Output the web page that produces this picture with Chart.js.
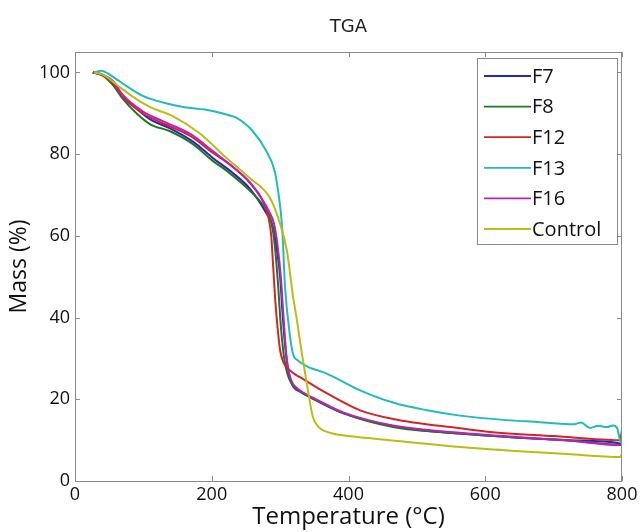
<!DOCTYPE html>
<html>
<head>
<meta charset="utf-8">
<script src="https://cdn.jsdelivr.net/npm/chart.js@4.4.1/dist/chart.umd.min.js"></script>
<style>
  html,body{margin:0;padding:0;background:#fff;}
  #wrap{width:642px;height:532px;position:relative;}
</style>
</head>
<body>
<div id="wrap"><canvas id="tga"></canvas></div>
<script>
(function(){
  // Series labels / colours
  const seriesNames = ['F7','F8','F12','F13','F16','Control'];
  const seriesColors = ['#2424c8','#1c7a1c','#d42424','#20bcbc','#bc20bc','#bcbc14'];

  // Axis ticks
  const xTicks = [0,200,400,600,800];
  const yTicks = [0,20,40,60,80,100];

  // F7
  const f7T = [26,40,55,70,91,110,139,173,202,230,256,281,289,295,300,304,308,312,318,330,344,392,465,563,650,720,797,800];
  const f7M = [100,99.4,97.5,94,91,88.5,86.3,83,79,75.5,71.5,65.2,62.5,57,50,40,32,27,23.5,21.8,20.5,16.6,13.4,11.6,10.6,10,9.2,9];
  // F8
  const f8T = [26,40,55,70,91,110,139,173,202,222,256,281,287,292,297,301,306,311,318,330,344,392,465,563,650,720,797,800];
  const f8M = [100,99.3,97,93.5,89.8,87.3,85.6,82.4,78.3,75.9,71,66,63.5,58,48,38,30,26,23.5,21.8,20.5,16.6,13.2,11.6,10.6,10,8.9,9.3];
  // F12
  const f12T = [26,40,55,70,99,129,168,202,230,256,275,283,287,290,293,296,300,305,310,320,329,368,417,465,563,607,700,797,800];
  const f12M = [100,99.4,97.6,94,90,87.5,84.5,80.3,77,73,68.5,64.5,60,52,44,38,32,29,27.8,26.3,25.4,21.5,17.3,15.2,12.9,12,11,10,12.5];
  // F13
  const f13T = [28,38,55,76,100,130,160,190,215,237,260,280,292,297,303,307,314,319,326,340,368,417,465,515,563,631,680,705,730,740,753,765,778,787,793,797,800];
  const f13M = [100,100.4,99,96.6,94.2,92.6,91.5,90.9,90,88.8,85.6,80.7,75.9,71,62,48,36,31,29.5,28,26.3,22.2,19.2,17.3,16,14.9,14.4,14.1,13.9,14.3,13,13.5,13.2,13.6,12.9,10,9.3];
  // F16
  const f16T = [26,40,55,70,99,129,168,202,230,256,285,291,296,301,305,309,313,318,324,335,350,392,465,563,650,720,797,800];
  const f16M = [100,99.5,98,94.5,90.5,88,85,80.7,77,73,65.6,63,58,50,40,31,26.5,24,22.8,21.5,20.2,16.8,13.6,11.8,10.7,9.9,8.8,9];
  // Control
  const ctrlT = [28,40,61,85,110,143,183,222,256,285,300,310,319,324,332,339,348,356,363,380,417,460,490,563,650,720,797,800];
  const ctrlM = [100,99.5,97,94,91.5,89.3,85,79,74.1,69.3,62.9,56.3,45,40,31,23.9,15.6,13.3,12.4,11.5,10.7,10,9.5,8.3,7.3,6.6,5.9,6.5];

  const temps = [f7T,f8T,f12T,f13T,f16T,ctrlT];
  const masses = [f7M,f8M,f12M,f13M,f16M,ctrlM];

  const FONT = '"Open Sans", "DejaVu Sans", sans-serif';
  const BOX = '#8a8a8a';

  // Title, box, inward ticks, legend (MATLAB look)
  const axesDecor = {
    id:'axesDecor',
    afterDatasetsDraw(chart){
      const {ctx, chartArea:a, scales} = chart;
      ctx.save();
      ctx.strokeStyle = BOX; ctx.lineWidth = 1;
      ctx.strokeRect(a.left+0.5, a.top+0.5, a.right-a.left-1, a.bottom-a.top);
      ctx.beginPath();
      xTicks.forEach(v=>{
        const x = Math.round(scales.x.getPixelForValue(v))+0.5;
        ctx.moveTo(x, a.bottom); ctx.lineTo(x, a.bottom-5);
        ctx.moveTo(x, a.top); ctx.lineTo(x, a.top+5);
      });
      yTicks.forEach(v=>{
        const y = Math.round(scales.y.getPixelForValue(v))+0.5;
        ctx.moveTo(a.left, y); ctx.lineTo(a.left+5, y);
        ctx.moveTo(a.right, y); ctx.lineTo(a.right-5, y);
      });
      ctx.stroke();

      // title
      ctx.fillStyle = '#222';
      ctx.font = '18px "DejaVu Sans", sans-serif';
      ctx.textAlign = 'center'; ctx.textBaseline = 'middle';
      ctx.fillText('TGA', (a.left+a.right)/2, 27);

      // legend box
      const lx = 477, ly = 58, lw = 140, lh = 186;
      ctx.fillStyle = '#fff';
      ctx.fillRect(lx, ly, lw, lh);
      ctx.strokeStyle = BOX;
      ctx.strokeRect(lx+0.5, ly+0.5, lw, lh);
      ctx.font = '20px ' + FONT;
      ctx.textAlign = 'left';
      seriesNames.forEach((n,i)=>{
        const y = 76 + i*30.6;
        ctx.strokeStyle = seriesColors[i]; ctx.lineWidth = 1.8;
        ctx.beginPath(); ctx.moveTo(484, y); ctx.lineTo(531, y); ctx.stroke();
        ctx.fillStyle = '#111';
        ctx.fillText(n, 532, y+1);
      });
      ctx.restore();
    }
  };

  const datasets = seriesNames.map((n,i)=>({
    label:n,
    data: temps[i].map((t,k)=>({x:t, y:masses[i][k]})),
    borderColor: seriesColors[i],
    backgroundColor: seriesColors[i],
    borderWidth: 2,
    pointRadius: 0,
    cubicInterpolationMode: 'monotone',
    fill: false,
    order: seriesNames.length - i
  }));

  new Chart(document.getElementById('tga').getContext('2d'), {
    type:'line',
    data:{ datasets },
    options:{
      responsive:true,
      maintainAspectRatio:false,
      animation:false,
      layout:{ padding:{ top:52, right:20, left:0, bottom:0 } },
      plugins:{ legend:{display:false}, tooltip:{enabled:false}, title:{display:false} },
      scales:{
        x:{
          type:'linear', min:0, max:800,
          grid:{ display:false, drawTicks:false },
          border:{ display:false },
          ticks:{ stepSize:200, padding:3, color:'#111', font:{ size:18, family:FONT }, maxRotation:0 },
          title:{ display:true, text:'Temperature (°C)', color:'#111', font:{ size:24, family:FONT }, padding:{top:0, bottom:0} },
          afterFit(s){ s.height = 51; }
        },
        y:{
          type:'linear', min:0, max:105,
          grid:{ display:false, drawTicks:false },
          border:{ display:false },
          ticks:{ stepSize:20, padding:5, color:'#111', font:{ size:18, family:FONT } },
          afterBuildTicks(s){ s.ticks = yTicks.map(v=>({value:v})); },
          title:{ display:true, text:'Mass (%)', color:'#111', font:{ size:23, family:FONT }, padding:{top:6, bottom:0} },
          afterFit(s){ s.width = 75; }
        }
      }
    },
    plugins:[axesDecor]
  });
})();
</script>
</body>
</html>
